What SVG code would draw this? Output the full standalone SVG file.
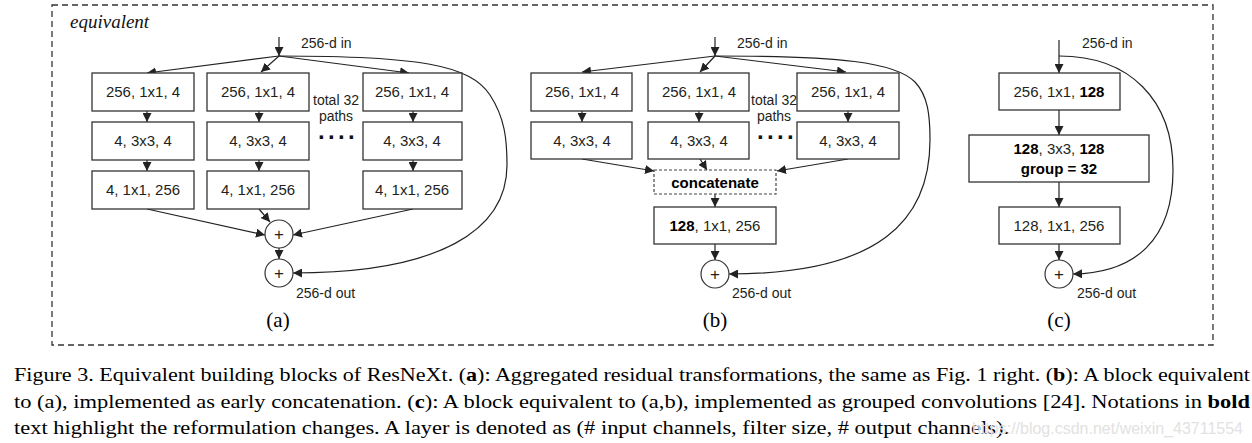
<svg xmlns="http://www.w3.org/2000/svg" width="1252" height="443" viewBox="0 0 1252 443">
<style>
.bg{fill:#fff}
.frame{fill:none;stroke:#333;stroke-width:1.3;stroke-dasharray:6 4}
.box{fill:#fff;stroke:#333;stroke-width:1.3}
.dbox{fill:#fff;stroke:#444;stroke-width:1.2;stroke-dasharray:3 2}
.op{fill:#fff;stroke:#333;stroke-width:1.2}
.t{font-family:"Liberation Sans",Arial,sans-serif;font-size:15px;fill:#231f20;text-anchor:middle}
.b{font-weight:bold;fill:#000}
.lab{font-family:"Liberation Sans",Arial,sans-serif;font-size:14px;fill:#231f20}
.dots{font-family:"Liberation Sans",Arial,sans-serif;font-size:24px;font-weight:bold;fill:#111;text-anchor:middle;letter-spacing:2px}
.plus{font-family:"Liberation Sans",Arial,sans-serif;font-size:17px;fill:#231f20;text-anchor:middle}
.cap{font-family:"Liberation Serif","Times New Roman",serif;font-size:19.5px;fill:#000}
.sub{font-family:"Liberation Serif","Times New Roman",serif;font-size:21px;fill:#000;text-anchor:middle}
.e{stroke:#222;stroke-width:1.2;fill:none;marker-end:url(#ah)}
.wm{font-family:"Liberation Sans",Arial,sans-serif;font-size:16px;fill:#e2e2e2}
</style>
<defs>
<marker id="ah" viewBox="0 0 10 10" refX="10" refY="5" markerWidth="9" markerHeight="9" markerUnits="userSpaceOnUse" orient="auto">
<path d="M0,0 L10,5 L0,10 z" fill="#222"/>
</marker>
</defs>
<rect class="bg" x="0" y="0" width="1252" height="443"/>
<rect class="frame" x="52" y="5" width="1161" height="340"/>
<text x="70" y="28" font-family="Liberation Serif,Times New Roman,serif" font-style="italic" font-size="19" fill="#111">equivalent</text>

<g id="connectors">
<!-- (a) -->
<path class="e" d="M279,37 V56"/>
<path class="e" d="M279,56 L147,73"/>
<path class="e" d="M279,56 L261,72"/>
<path class="e" d="M279,56 L409,73"/>
<path class="e" d="M279,56 C420,56 470,65 490,95 C505,118 507,140 507,165 C507,230 440,273 293,273"/>
<path class="e" d="M147,111 V122"/>
<path class="e" d="M259,111 V122"/>
<path class="e" d="M413,111 V122"/>
<path class="e" d="M147,160 V171"/>
<path class="e" d="M259,160 V171"/>
<path class="e" d="M413,160 V171"/>
<path class="e" d="M147,209 L265,235"/>
<path class="e" d="M259,209 L270,222"/>
<path class="e" d="M413,209 L293,235"/>
<path class="e" d="M279,248 V259"/>
<!-- (b) -->
<path class="e" d="M715,37 V56"/>
<path class="e" d="M715,56 L582,72"/>
<path class="e" d="M715,56 L700,72"/>
<path class="e" d="M715,56 L846,72"/>
<path class="e" d="M715,56 C840,56 895,62 915,82 C928,96 930,115 930,140 C930,220 880,274 729,274"/>
<path class="e" d="M582,111 V122"/>
<path class="e" d="M699,111 V122"/>
<path class="e" d="M848,111 V122"/>
<path class="e" d="M582,159 L654,171"/>
<path class="e" d="M700,159 L707,170"/>
<path class="e" d="M848,159 L777,171"/>
<path class="e" d="M715,194 V207"/>
<path class="e" d="M715,244 V260"/>
<!-- (c) -->
<path class="e" d="M1059,40 V73"/>
<path class="e" d="M1059,56 C1130,56 1173,100 1173,170 C1173,240 1135,273 1073,274"/>
<path class="e" d="M1059,110 V135"/>
<path class="e" d="M1059,182 V207"/>
<path class="e" d="M1059,244 V260"/>
</g>

<g id="a-labels">
<text class="lab" x="301" y="48">256-d in</text>
<text class="lab" x="296" y="298">256-d out</text>
<text class="lab" x="336" y="105" text-anchor="middle">total 32</text>
<text class="lab" x="336" y="121" text-anchor="middle">paths</text>
<text class="dots" x="338" y="145">····</text>
<text class="sub" x="278" y="327">(a)</text>
</g>
<g id="a-c1r1"><rect class="box" x="92" y="73" width="102" height="38"/><text class="t" x="143" y="97">256, 1x1, 4</text></g>
<g id="a-c1r2"><rect class="box" x="92" y="122" width="102" height="38"/><text class="t" x="143" y="146">4, 3x3, 4</text></g>
<g id="a-c1r3"><rect class="box" x="92" y="171" width="102" height="38"/><text class="t" x="143" y="195">4, 1x1, 256</text></g>
<g id="a-c2r1"><rect class="box" x="207" y="73" width="102" height="38"/><text class="t" x="258" y="97">256, 1x1, 4</text></g>
<g id="a-c2r2"><rect class="box" x="207" y="122" width="102" height="38"/><text class="t" x="258" y="146">4, 3x3, 4</text></g>
<g id="a-c2r3"><rect class="box" x="207" y="171" width="102" height="38"/><text class="t" x="258" y="195">4, 1x1, 256</text></g>
<g id="a-c3r1"><rect class="box" x="363" y="73" width="99" height="38"/><text class="t" x="412" y="97">256, 1x1, 4</text></g>
<g id="a-c3r2"><rect class="box" x="363" y="122" width="99" height="38"/><text class="t" x="412" y="146">4, 3x3, 4</text></g>
<g id="a-c3r3"><rect class="box" x="363" y="171" width="99" height="38"/><text class="t" x="412" y="195">4, 1x1, 256</text></g>
<g id="a-sum1"><circle class="op" cx="279" cy="234" r="14"/><text class="plus" x="279" y="240">+</text></g>
<g id="a-sum2"><circle class="op" cx="279" cy="273" r="14"/><text class="plus" x="279" y="279">+</text></g>

<g id="b-labels">
<text class="lab" x="737" y="48">256-d in</text>
<text class="lab" x="732" y="298">256-d out</text>
<text class="lab" x="774" y="105" text-anchor="middle">total 32</text>
<text class="lab" x="774" y="121" text-anchor="middle">paths</text>
<text class="dots" x="777" y="145">····</text>
<text class="sub" x="715" y="327">(b)</text>
</g>
<g id="b-c1r1"><rect class="box" x="531" y="73" width="101" height="38"/><text class="t" x="582" y="97">256, 1x1, 4</text></g>
<g id="b-c1r2"><rect class="box" x="531" y="122" width="101" height="37"/><text class="t" x="582" y="146">4, 3x3, 4</text></g>
<g id="b-c2r1"><rect class="box" x="648" y="73" width="101" height="38"/><text class="t" x="699" y="97">256, 1x1, 4</text></g>
<g id="b-c2r2"><rect class="box" x="648" y="122" width="101" height="37"/><text class="t" x="699" y="146">4, 3x3, 4</text></g>
<g id="b-c3r1"><rect class="box" x="797" y="73" width="102" height="38"/><text class="t" x="848" y="97">256, 1x1, 4</text></g>
<g id="b-c3r2"><rect class="box" x="797" y="122" width="102" height="37"/><text class="t" x="848" y="146">4, 3x3, 4</text></g>
<g id="b-concat"><rect class="dbox" x="654" y="170" width="122" height="24"/><text class="t b" x="715" y="188" font-size="16.5">concatenate</text></g>
<g id="b-proj"><rect class="box" x="654" y="207" width="122" height="37"/><text class="t" x="715" y="231"><tspan class="b">128</tspan>, 1x1, 256</text></g>
<g id="b-sum"><circle class="op" cx="715" cy="274" r="14"/><text class="plus" x="715" y="280">+</text></g>

<g id="c-labels">
<text class="lab" x="1082" y="48">256-d in</text>
<text class="lab" x="1077" y="298">256-d out</text>
<text class="sub" x="1059" y="327">(c)</text>
</g>
<g id="c-r1"><rect class="box" x="999" y="73" width="121" height="37"/><text class="t" x="1059" y="97">256, 1x1, <tspan class="b">128</tspan></text></g>
<g id="c-r2"><rect class="box" x="969" y="135" width="180" height="47"/><text class="t" x="1059" y="154"><tspan class="b">128</tspan>, 3x3, <tspan class="b">128</tspan></text><text class="t b" x="1059" y="174">group = 32</text></g>
<g id="c-r3"><rect class="box" x="999" y="207" width="121" height="37"/><text class="t" x="1059" y="231">128, 1x1, 256</text></g>
<g id="c-sum"><circle class="op" cx="1059" cy="274" r="14"/><text class="plus" x="1059" y="280">+</text></g>

<g id="caption">
<text class="cap" x="14" y="381" textLength="1236" lengthAdjust="spacingAndGlyphs">Figure 3. Equivalent building blocks of ResNeXt. (<tspan font-weight="bold">a</tspan>): Aggregated residual transformations, the same as Fig. 1 right. (<tspan font-weight="bold">b</tspan>): A block equivalent</text>
<text class="cap" x="14" y="408" textLength="1236" lengthAdjust="spacingAndGlyphs">to (a), implemented as early concatenation. (<tspan font-weight="bold">c</tspan>): A block equivalent to (a,b), implemented as grouped convolutions [24]. Notations in <tspan font-weight="bold">bold</tspan></text>
<text class="cap" x="14" y="434" textLength="995" lengthAdjust="spacingAndGlyphs">text highlight the reformulation changes. A layer is denoted as (# input channels, filter size, # output channels).</text>
<text class="wm" x="972" y="434" textLength="271" lengthAdjust="spacingAndGlyphs">https://blog.csdn.net/weixin_43711554</text>
</g>
</svg>
